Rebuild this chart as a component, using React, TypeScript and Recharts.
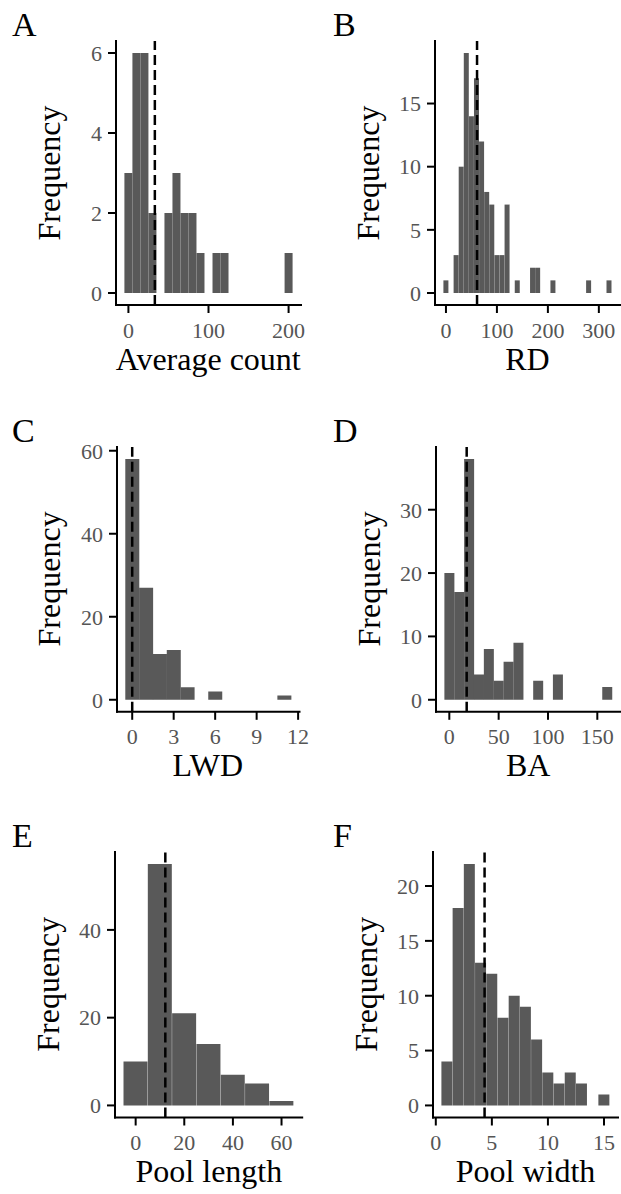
import React from 'react';
import { BarChart, Bar, XAxis, YAxis, ReferenceLine } from 'recharts';

const FONT = '"Liberation Serif", "Times New Roman", Times, serif';

// ---- Data (bin centres, counts, ticks, reference line) ----
// A: Average count
const avgCountBins = [0, 10, 20, 30, 40, 50, 60, 70, 80, 90, 100, 110, 120, 130, 140, 150, 160, 170, 180, 190, 200];
const avgCountFreq = [3, 6, 6, 2, 0, 2, 3, 2, 2, 1, 0, 1, 1, 0, 0, 0, 0, 0, 0, 0, 1];
const avgCountXTicks = [0, 100, 200];
const avgCountYTicks = [0, 2, 4, 6];
const avgCountMean = 33;

// B: RD
const rdBins = [0, 10, 20, 30, 40, 50, 60, 70, 80, 90, 100, 110, 120, 130, 140, 150, 160, 170, 180, 190, 200, 210, 220, 230, 240, 250, 260, 270, 280, 290, 300, 310, 320];
const rdFreq = [1, 0, 3, 10, 19, 14, 17, 12, 8, 7, 3, 3, 7, 0, 1, 0, 0, 2, 2, 0, 0, 1, 0, 0, 0, 0, 0, 0, 1, 0, 0, 0, 1];
const rdXTicks = [0, 100, 200, 300];
const rdYTicks = [0, 5, 10, 15];
const rdMean = 61;

// C: LWD
const lwdBins = [0, 1, 2, 3, 4, 5, 6, 7, 8, 9, 10, 11];
const lwdFreq = [58, 27, 11, 12, 3, 0, 2, 0, 0, 0, 0, 1];
const lwdXTicks = [0, 3, 6, 9, 12];
const lwdYTicks = [0, 20, 40, 60];
const lwdMean = 0;

// D: BA
const baBins = [0, 10, 20, 30, 40, 50, 60, 70, 80, 90, 100, 110, 120, 130, 140, 150, 160];
const baFreq = [20, 17, 38, 4, 8, 3, 6, 9, 0, 3, 0, 4, 0, 0, 0, 0, 2];
const baXTicks = [0, 50, 100, 150];
const baYTicks = [0, 10, 20, 30];
const baMean = 17.6;

// E: Pool length
const poolLengthBins = [0, 10, 20, 30, 40, 50, 60];
const poolLengthFreq = [10, 55, 21, 14, 7, 5, 1];
const poolLengthXTicks = [0, 20, 40, 60];
const poolLengthYTicks = [0, 20, 40];
const poolLengthMean = 12.2;

// F: Pool width
const poolWidthBins = [1, 2, 3, 4, 5, 6, 7, 8, 9, 10, 11, 12, 13, 14, 15];
const poolWidthFreq = [4, 18, 22, 13, 12, 8, 10, 9, 6, 3, 2, 3, 2, 0, 1];
const poolWidthXTicks = [0, 5, 10, 15];
const poolWidthYTicks = [0, 5, 10, 15, 20];
const poolWidthMean = 4.35;

const panelTags = ['A', 'B', 'C', 'D', 'E', 'F'];
const xTitles = ['Average count', 'RD', 'LWD', 'BA', 'Pool length', 'Pool width'];

// ---- Layout (plot-area frames in page pixels) ----
const frames = [
  { left: 115.7, right: 300.7, top: 41, bottom: 305 },
  { left: 435, right: 620, top: 41, bottom: 305 },
  { left: 116.5, right: 299, top: 446.5, bottom: 711.3 },
  { left: 436, right: 620.5, top: 446.5, bottom: 711.3 },
  { left: 115.3, right: 302.5, top: 851.5, bottom: 1117 },
  { left: 433, right: 618, top: 851.5, bottom: 1117 },
];

const series = [
  { bins: avgCountBins, freq: avgCountFreq, xTicks: avgCountXTicks, yTicks: avgCountYTicks, mean: avgCountMean },
  { bins: rdBins, freq: rdFreq, xTicks: rdXTicks, yTicks: rdYTicks, mean: rdMean },
  { bins: lwdBins, freq: lwdFreq, xTicks: lwdXTicks, yTicks: lwdYTicks, mean: lwdMean },
  { bins: baBins, freq: baFreq, xTicks: baXTicks, yTicks: baYTicks, mean: baMean },
  { bins: poolLengthBins, freq: poolLengthFreq, xTicks: poolLengthXTicks, yTicks: poolLengthYTicks, mean: poolLengthMean },
  { bins: poolWidthBins, freq: poolWidthFreq, xTicks: poolWidthXTicks, yTicks: poolWidthYTicks, mean: poolWidthMean },
];

const Y_W = 80;
const X_H = 50;
const PAD_T = 20;
const PAD_R = 24;

const axisLineStyle = { stroke: '#000', strokeWidth: 2, strokeLinecap: 'square' as const };
const tickLineStyle = { stroke: '#000', strokeWidth: 2 };
const tickStyle = { fill: '#555555', fontSize: 22, fontFamily: FONT };

function Histogram({ idx }: { idx: number }) {
  const s = series[idx];
  const f = frames[idx];
  const w = s.bins[1] - s.bins[0];
  const lo = s.bins[0] - w / 2;
  const hi = s.bins[s.bins.length - 1] + w / 2;
  const r = hi - lo;
  const xDomain: [number, number] = [lo - 0.05 * r, hi + 0.05 * r];
  const maxN = Math.max(...s.freq);
  const yDomain: [number, number] = [-0.05 * maxN, 1.05 * maxN];
  const data = s.bins.map((x, i) => ({ x, n: s.freq[i] }));
  const width = Y_W + (f.right - f.left) + PAD_R;
  const height = PAD_T + (f.bottom - f.top) + X_H;
  return (
    <div style={{ position: 'absolute', left: f.left - Y_W, top: f.top - PAD_T, width, height }}>
      <BarChart
        width={width}
        height={height}
        data={data}
        margin={{ top: PAD_T, right: PAD_R, bottom: 0, left: 0 }}
        barCategoryGap={0}
        barGap={0}
      >
        <XAxis
          dataKey="x"
          type="number"
          domain={xDomain}
          allowDataOverflow
          ticks={s.xTicks}
          interval={0}
          height={X_H}
          axisLine={axisLineStyle}
          tickLine={tickLineStyle}
          tickSize={8}
          tickMargin={9}
          tick={tickStyle}
        />
        <YAxis
          type="number"
          domain={yDomain}
          allowDataOverflow
          ticks={s.yTicks}
          interval={0}
          width={Y_W}
          axisLine={axisLineStyle}
          tickLine={tickLineStyle}
          tickSize={8}
          tickMargin={6}
          tick={tickStyle}
        />
        <Bar dataKey="n" fill="#595959" isAnimationActive={false} />
        <ReferenceLine x={s.mean} stroke="#000" strokeWidth={2.5} strokeDasharray="10 5" ifOverflow="visible" />
      </BarChart>
    </div>
  );
}

export default function App() {
  return (
    <div style={{ position: 'absolute', left: 0, top: 0, width: 621, height: 1194, overflow: 'hidden', background: '#fff' }}>
      {frames.map((_, i) => (
        <Histogram key={i} idx={i} />
      ))}
      <svg width={621} height={1194} style={{ position: 'absolute', left: 0, top: 0, pointerEvents: 'none' }}>
        {frames.map((f, i) => {
          const cx = (f.left + f.right) / 2;
          const cy = (f.top + f.bottom) / 2;
          const tagX = i % 2 === 0 ? 12 : 333;
          const yTitleX = f.left - 56;
          return (
            <g key={i} fontFamily={FONT} fill="#000">
              <text x={tagX} y={f.top - 5} fontSize={34}>{panelTags[i]}</text>
              <text x={cx} y={f.bottom + 65} fontSize={32} textAnchor="middle">{xTitles[i]}</text>
              <text
                x={yTitleX}
                y={cy}
                fontSize={32}
                textAnchor="middle"
                transform={`rotate(-90 ${yTitleX} ${cy})`}
              >
                Frequency
              </text>
            </g>
          );
        })}
      </svg>
    </div>
  );
}
